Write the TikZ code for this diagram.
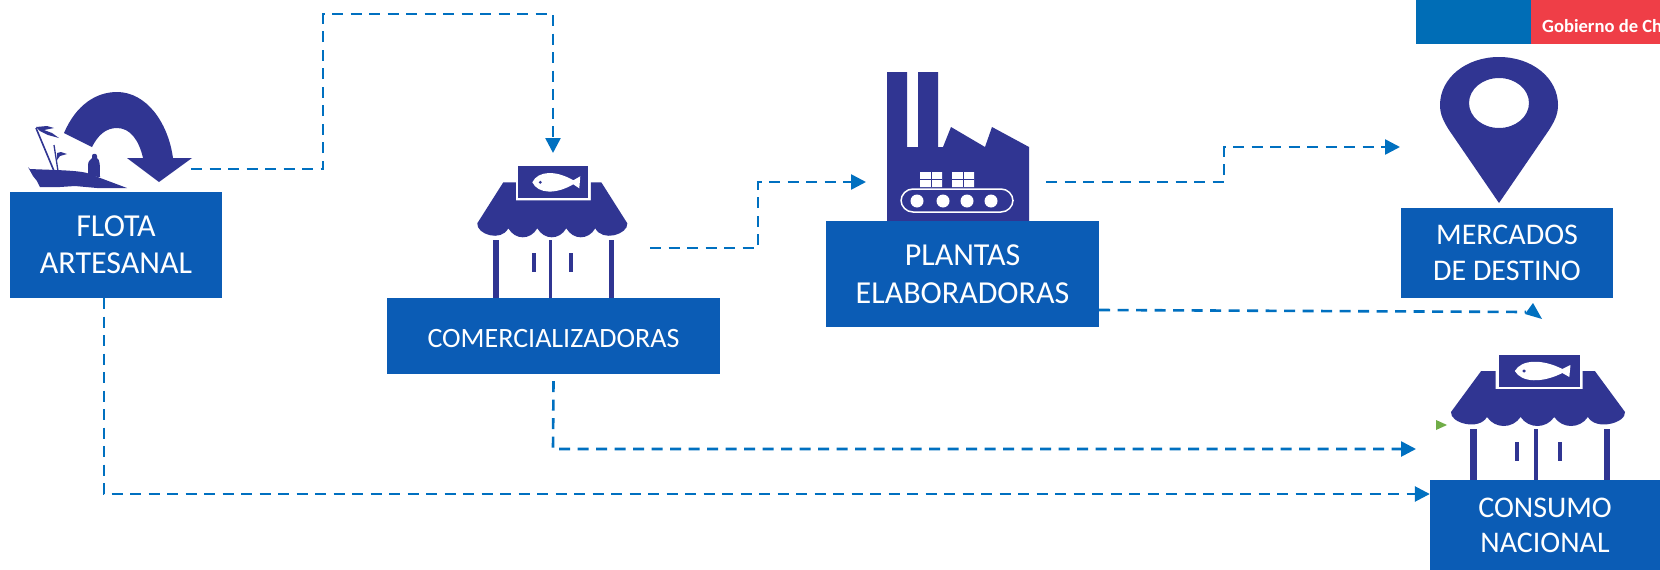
\documentclass[tikz,border=0pt]{standalone}
\usepackage{fontspec}
\setmainfont{Carlito}
\usetikzlibrary{positioning,calc,arrows.meta}

\begin{document}
\begin{tikzpicture}[x=1pt,y=-1pt]
    \definecolor{colbox}{HTML}{0b5cb5}
    \definecolor{colicon}{HTML}{303592}
    \definecolor{colflow}{HTML}{0070c0}
    \definecolor{colgob}{HTML}{006db6}
    \definecolor{colred}{HTML}{ef3e47}
    \definecolor{colgreen}{HTML}{70ad47}
    \tikzstyle{box}=[fill=colbox,text=white,align=center,inner sep=0pt,
                     execute at begin node={\rule{0pt}{24pt}},
                     font=\fontsize{32}{37}\selectfont]
    \tikzstyle{boxtall}=[box,execute at begin node={\rule{0pt}{34pt}}]
    \tikzstyle{flowline}=[colflow,line width=2.6pt,dash pattern=on 11pt off 7.5pt]
    \tikzstyle{flow}=[flowline,-{Triangle[length=15pt,width=15pt]}]
    \tikzstyle{icon}=[colicon,even odd rule]
    \tikzset{
    shop/.pic={
        % awning
        \fill[icon] (-49,-16) -- (-36.5,-16) -- (-36.5,2) -- (38.5,2) -- (38.5,-16) -- (49,-16) -- (75,25)
            .. controls (76,36) and (50,44) .. (43,30) .. controls (36,42) and (21,42) .. (14,30)
            .. controls (7,42) and (-8,42) .. (-15,30) .. controls (-22,42) and (-37,42) .. (-44,30)
            .. controls (-51,44) and (-76,36) .. (-75,25) -- cycle;
        % sign
        \fill[icon] (-34,-32) rectangle (36,0);
        \fill[white] (-20,-16) .. controls (-14,-28) and (4,-28) .. (21,-18) -- (28,-22)
            -- (27,-10) -- (21,-14) .. controls (4,-4) and (-14,-4) .. (-20,-16) -- cycle;
        \fill[icon] (-12,-16) circle[radius=1.6];
        % posts
        \fill[icon] (-59,42) rectangle (-53,100);
        \fill[icon] (-3.5,42) rectangle (0,100);
        \fill[icon] (57,42) rectangle (62,100);
        \fill[icon] (-20,55) rectangle (-16.5,74);
        \fill[icon] (17,55) rectangle (21,74);
    }}
    \useasboundingbox (0,0) rectangle (1660,570);
    \fill[white] (0,0) rectangle (1660,570);
    % header
    \fill[colgob] (1416,0) rectangle (1531,44);
    \fill[colred] (1531,0) rectangle (1660,44);
    \node[text=white,inner sep=0pt,anchor=west,font=\fontsize{18.6}{24}\selectfont\bfseries] (gob) at (1542,26) {Gobierno de Ch};
    % boat
    \fill[icon] (28,167) -- (30,169) .. controls (50,170) and (75,170) .. (87,173) -- (127,188) -- (97,188)
        -- (75,186) -- (60,187) -- (40,187) -- (37,181) -- (33,176) -- cycle;
    \fill[icon] (88,176) -- (88,165) .. controls (88,161) and (91,159) .. (92,158) -- (92,156)
        .. controls (92,153) and (97,153) .. (97,156) -- (97,158) .. controls (100,160) and (100,164) .. (100,177) -- cycle;
    \draw[colicon,line width=1.6pt] (36,128) -- (54,171);
    \draw[colicon,line width=1.3pt] (54,145) -- (58,171);
    \fill[icon] (36,127) -- (47,126) -- (54,128) -- (44,130) -- (52,133) -- (59,138) -- (48,135) -- (40,131) -- cycle;
    \fill[icon] (57,153) -- (61,152) -- (67,154) -- (60,156) -- (57,160) -- cycle;
    % return arrow
    \fill[icon] (64,133) .. controls (76,105) and (96,92) .. (117,92) .. controls (146,92) and (168,122) .. (173,158)
        -- (192,158) -- (159,182) -- (127,158) -- (143,158) .. controls (139,140) and (130,128) .. (117,128)
        .. controls (106,128) and (98,135) .. (92,147) -- cycle;
    % shops
    \pic at (552.3,198.3) {shop};
    \pic[xscale=1.16] at (1538,387) {shop};
    % factory
    \fill[icon] (887,72) -- (907,72) -- (907,147) -- (918,147) -- (918,72) -- (938,72) -- (938,147) -- (943,147)
        -- (951,127) -- (985,147) -- (992,127) -- (1029,147) -- (1029,222) -- (887,222) -- cycle;
    \fill[white] (920,172) rectangle (942,187) (952,172) rectangle (974,187);
    \draw[colicon,thick] (931,172) -- (931,187) (920,179.5) -- (942,179.5)
        (963,172) -- (963,187) (952,179.5) -- (974,179.5);
    \draw[white,line width=1.5pt,rounded corners=12pt] (901,189) rectangle (1013,212);
    \foreach \x in {917,943,967,991}
        \fill[white] (\x,201) circle[radius=6.5];
    % pin
    \fill[icon] (1499,203) -- (1449,130) .. controls (1444,122) and (1440,115) .. (1440,105)
        .. controls (1440,78) and (1466,57) .. (1499,57) .. controls (1532,57) and (1558,78) .. (1558,105)
        .. controls (1558,115) and (1554,122) .. (1549,130) -- cycle
        (1499,103) ellipse [x radius=30, y radius=25];
    % boxes
    \node[boxtall,minimum width=212pt,minimum height=106pt] (flota) at (116,245) {FLOTA\\ARTESANAL};
    \node[box,minimum width=333pt,minimum height=76pt,font=\fontsize{28}{30}\selectfont] (comer) at (553.5,336) {COMERCIALIZADORAS};
    \node[boxtall,minimum width=273pt,minimum height=106pt,font=\fontsize{32}{38}\selectfont] (plantas) at (962.5,274) {PLANTAS\\ELABORADORAS};
    \node[box,minimum width=212pt,minimum height=90pt,font=\fontsize{30}{36}\selectfont] (mercados) at (1507,253) {MERCADOS\\DE DESTINO};
    \node[box,minimum width=230pt,minimum height=90pt,font=\fontsize{30}{35}\selectfont] (consumo) at (1545,525) {CONSUMO\\NACIONAL};
    % connectors
    \coordinate (flotaout) at (191,169);
    \coordinate (comerin) at (553,153);
    \coordinate (comerout) at (650,248);
    \coordinate (plantasin) at (866,182);
    \coordinate (plantasout) at (1046,182);
    \coordinate (mercadosin) at (1400,147);
    \coordinate (consumoin) at (1416,449);
    \coordinate (consumotop) at (1526,312);
    \draw[flow] (flotaout) -- (323,169) -- (323,14) -- (553,14) -- (comerin);
    \draw[flow] (comerout) -- (758,248) -- (758,182) -- (plantasin);
    \draw[flow] (plantasout) -- (1224,182) -- (1224,147) -- (mercadosin);
    \draw[flowline] (plantas.east |- 0,310) -- (consumotop);
    \fill[colflow] (1533,303) -- (1525,314) -- (1542,319) -- cycle;
    \draw[flow] ($(comer.south)+(0,7)$) -- (553,449) -- (consumoin);
    \draw[flow] (104,298) -- (104,494) -- (consumo.west |- 0,494);
    % green mark
    \fill[colgreen] (1436,420) -- (1447,425) -- (1436,430) -- cycle;
\end{tikzpicture}
\end{document}
